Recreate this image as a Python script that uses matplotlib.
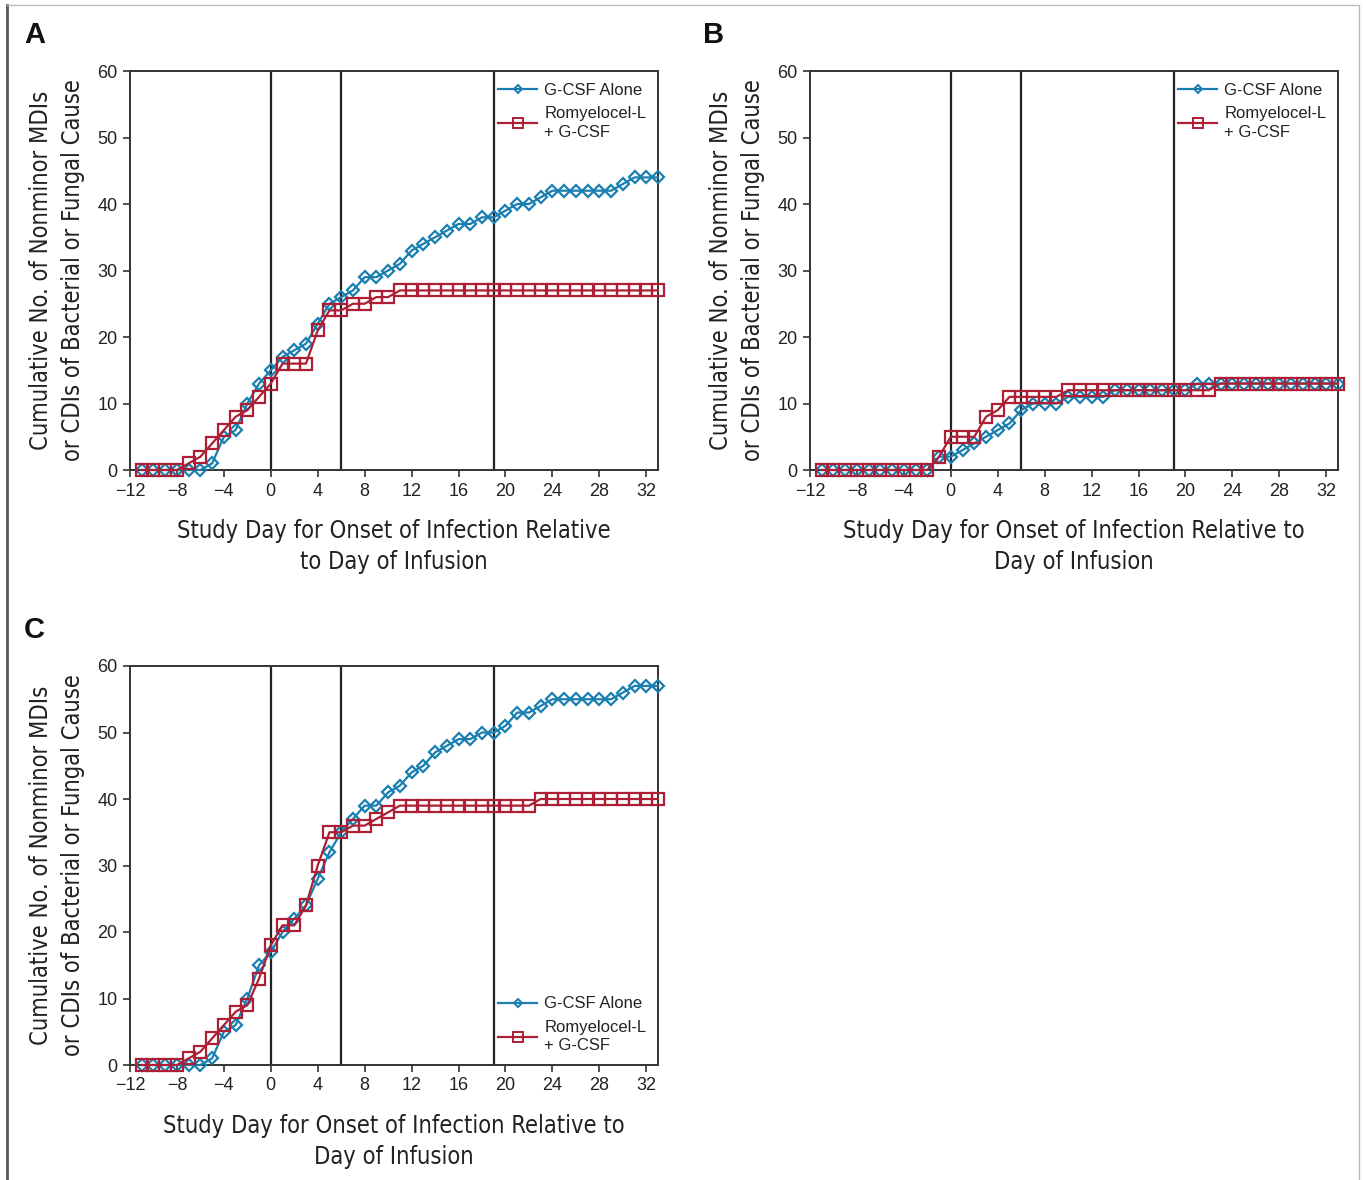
import matplotlib
matplotlib.use("Agg")
import matplotlib.pyplot as plt
from matplotlib.lines import Line2D

# study days (one point per day)
days = list(range(-11, 34))

# panel A
a_gcsf = [0, 0, 0, 0, 0, 0, 1, 5, 6, 10, 13, 15, 17, 18, 19, 22, 25, 26, 27, 29, 29, 30, 31,
          33, 34, 35, 36, 37, 37, 38, 38, 39, 40, 40, 41, 42, 42, 42, 42, 42, 42, 43, 44, 44, 44]
a_romy = [0, 0, 0, 0, 1, 2, 4, 6, 8, 9, 11, 13, 16, 16, 16, 21, 24, 24, 25, 25, 26, 26] + [27] * 23

# panel B
b_gcsf = [0] * 10 + [2, 2, 3, 4, 5, 6, 7, 9, 10, 10, 10, 11, 11, 11, 11] + [12] * 7 + [13] * 13
b_romy = [0] * 10 + [2, 5, 5, 5, 8, 9, 11, 11, 11, 11, 11] + [12] * 13 + [13] * 11

# panel C
c_gcsf = [0, 0, 0, 0, 0, 0, 1, 5, 6, 10, 15, 17, 20, 22, 24, 28, 32, 35, 37, 39, 39, 41, 42,
          44, 45, 47, 48, 49, 49, 50, 50, 51, 53, 53, 54, 55, 55, 55, 55, 55, 55, 56, 57, 57, 57]
c_romy = [0, 0, 0, 0, 1, 2, 4, 6, 8, 9, 13, 18, 21, 21, 24, 30, 35, 35, 36, 36, 37, 38] + [39] * 12 + [40] * 11

vlines = [0, 6, 19]
xticks = list(range(-12, 33, 4))
yticks = list(range(0, 61, 10))

BLUE = "#1a7fb0"
RED = "#ae1f35"
tick_font = ["Liberation Sans", "DejaVu Sans"]

ylab = "Cumulative No. of Nonminor MDIs\nor CDIs of Bacterial or Fungal Cause"
xlab_ac = "Study Day for Onset of Infection Relative\nto Day of Infusion"
xlab_b = "Study Day for Onset of Infection Relative to\nDay of Infusion"

fig = plt.figure(figsize=(13.66, 11.8), dpi=100)

W, H = 1366, 1180


def make_ax(left, top, right, bottom):
    return fig.add_axes([left / W, 1 - bottom / H, (right - left) / W, (bottom - top) / H])


def draw_panel(ax, gcsf, romy, xlab, legend_loc):
    for v in vlines:
        ax.axvline(v, color="#222222", lw=1.6, zorder=1)
    ax.plot(days, gcsf, color=BLUE, lw=1.6, marker="D", ms=6.2, mfc="none",
            mec=BLUE, mew=1.6, clip_on=False, zorder=3)
    ax.plot(days, romy, color=RED, lw=1.6, marker="s", ms=8.6, mfc="none",
            mec=RED, mew=1.6, clip_on=False, zorder=4)
    ax.set_xlim(-12, 33)
    ax.set_ylim(0, 60)
    ax.set_xticks(xticks)
    ax.set_xticklabels([str(t).replace("-", "\u2212") for t in xticks])
    ax.set_yticks(yticks)
    ax.tick_params(direction="out", length=5, width=1.2, color="#333333",
                   labelsize=13, pad=4)
    for lbl in ax.get_xticklabels() + ax.get_yticklabels():
        lbl.set_family(tick_font)
        lbl.set_color("#222222")
    for sp in ax.spines.values():
        sp.set_linewidth(1.4)
        sp.set_color("#333333")
    ax.set_xlabel(xlab, family="DejaVu Sans", fontstretch="condensed", fontsize=17,
                  color="#222222", labelpad=14, linespacing=1.35)
    ax.set_ylabel(ylab, family="DejaVu Sans", fontstretch="condensed", fontsize=17,
                  color="#222222", labelpad=9, linespacing=1.4)
    handles = [
        Line2D([], [], color=BLUE, lw=1.6, marker="D", ms=4.5, mfc="none", mec=BLUE, mew=1.4),
        Line2D([], [], color=RED, lw=1.6, marker="s", ms=6.5, mfc="none", mec=RED, mew=1.4),
    ]
    leg = ax.legend(handles, ["G-CSF Alone", "Romyelocel-L\n+ G-CSF"], loc=legend_loc,
                    frameon=False, prop={"family": tick_font, "size": 12},
                    handlelength=2.3, handletextpad=0.45, labelspacing=0.5,
                    borderaxespad=0.3)
    for t in leg.get_texts():
        t.set_color("#222222")
        t.set_linespacing(1.3)
    return ax


axA = make_ax(130, 71, 658, 470)
draw_panel(axA, a_gcsf, a_romy, xlab_ac, "upper right")
axB = make_ax(810, 71, 1338, 470)
draw_panel(axB, b_gcsf, b_romy, xlab_b, "upper right")
axC = make_ax(130, 666, 658, 1065)
draw_panel(axC, c_gcsf, c_romy, xlab_b, "lower right")

for letter, (px, py) in zip(["A", "B", "C"], [(24, 35), (703, 35), (24, 630)]):
    fig.text(px / W, 1 - py / H, letter, fontsize=21, fontweight="bold",
             family=tick_font, va="center", ha="left", color="#111111")

# figure frame
fig.add_artist(Line2D([7 / W, 7 / W], [0, 1 - 5 / H], transform=fig.transFigure,
                      color="#555555", lw=2))
fig.add_artist(Line2D([7 / W, 1359 / W, 1359 / W], [1 - 5 / H, 1 - 5 / H, 0],
                      transform=fig.transFigure, color="#bbbbbb", lw=1))

fig.savefig("out.png", dpi=100, facecolor="white")
